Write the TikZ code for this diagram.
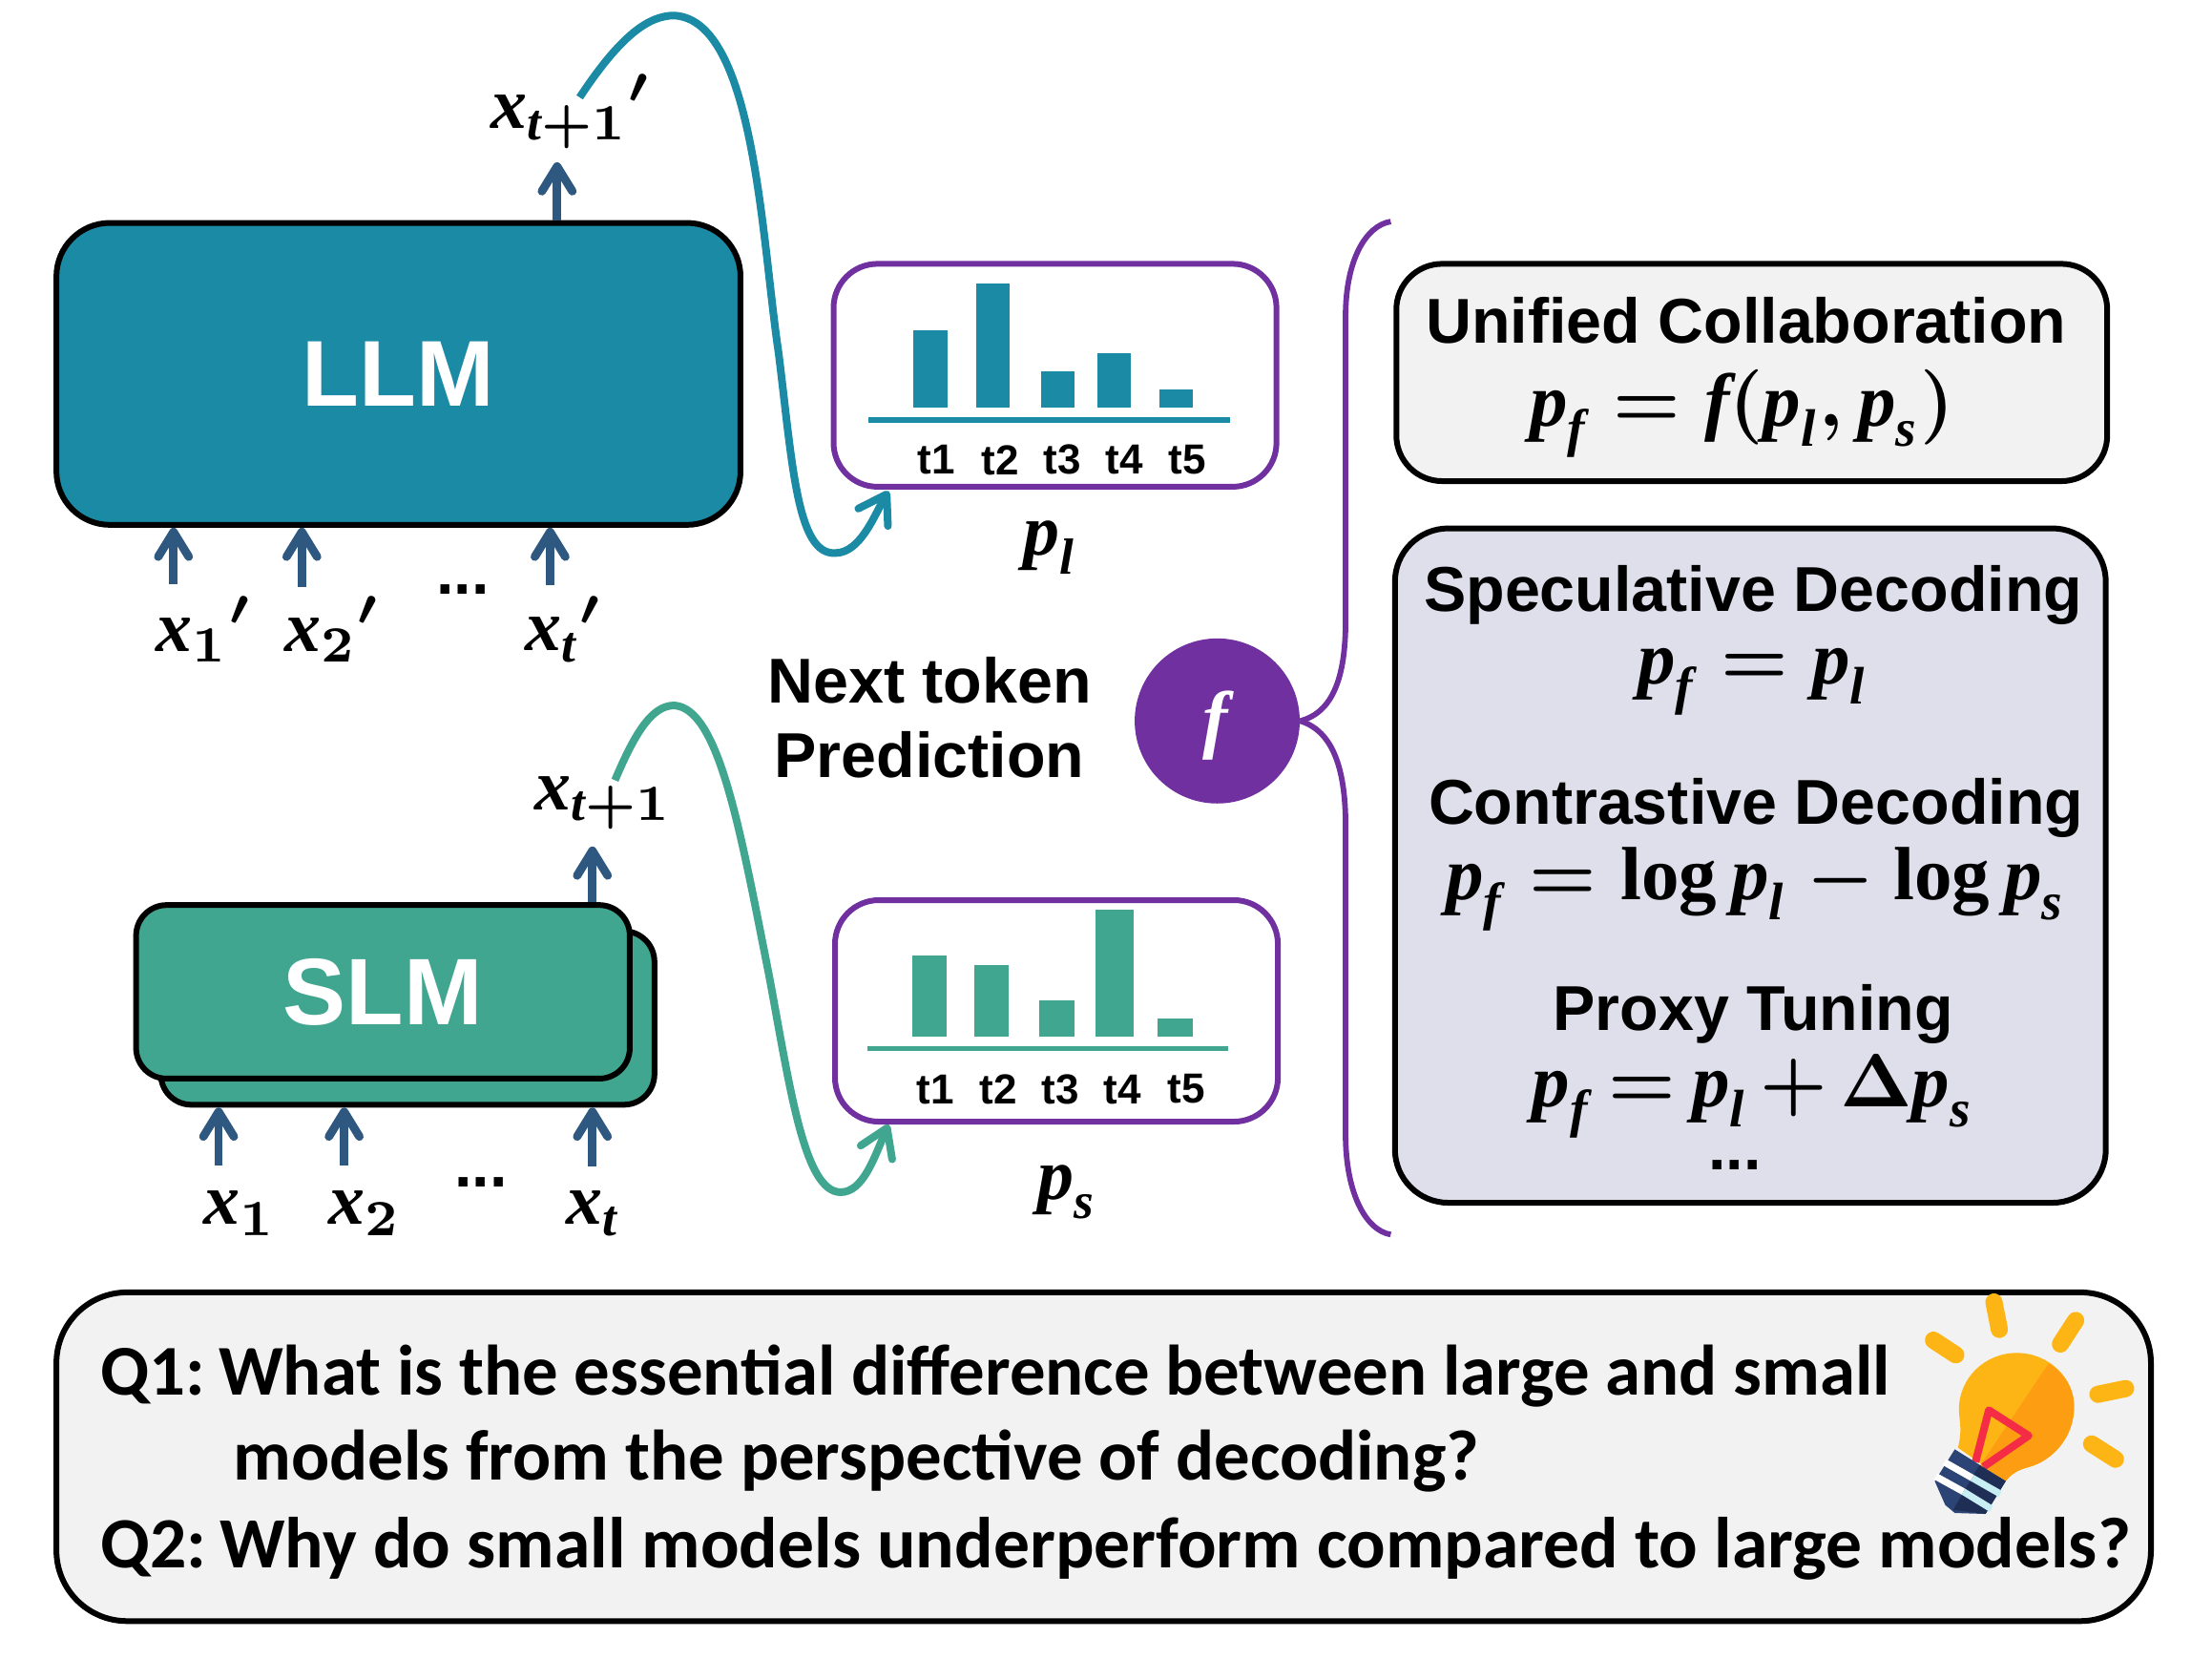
\documentclass[tikz,border=0pt]{standalone}
\usepackage[no-math]{fontspec}
\setmainfont{Liberation Sans}
\newfontfamily\qfont{Carlito}
\newfontfamily\eqfont{Liberation Serif}
\usepackage{amsmath}
\usepackage{xcolor}
\usetikzlibrary{arrows.meta}

\definecolor{llmteal}{HTML}{1A8AA5}
\definecolor{slmgreen}{HTML}{41A690}
\definecolor{arrowblue}{HTML}{2F5880}
\definecolor{fpurple}{HTML}{7030A0}
\definecolor{boxgrey}{HTML}{F2F2F2}
\definecolor{boxlav}{HTML}{DFDFEC}
\definecolor{bulbyellow}{HTML}{FDB515}
\definecolor{bulborange}{HTML}{FD9D12}
\definecolor{bulbred}{HTML}{F42C46}
\definecolor{bulbblue}{HTML}{2C4376}
\definecolor{bulbnavy}{HTML}{1F2E55}
\definecolor{bulbcyan}{HTML}{C6EEF3}

\def\ux{0.739pt}
\newcommand{\mv}[1]{\text{\eqfont\bfseries\itshape #1}}
\newcommand{\mlog}{\text{\eqfont\bfseries log}}

\tikzset{
  bigbox/.style={draw=black,line width=3pt,inner sep=0pt,text=white},
  distbox/.style={draw=fpurple,line width=3pt,rounded corners=23pt,minimum width=314*\ux,inner sep=0pt},
  methodbox/.style={draw=black,line width=3pt,minimum width=504*\ux,inner sep=0pt},
  uparrow/.style={draw=arrowblue,line width=4.4pt,-{Straight Barb[length=13pt,width=16pt,line width=4.4pt,round]}},
  curvearrow/.style={line width=4pt,-{Straight Barb[length=14pt,width=18pt,line width=4pt,round]}},
  brace/.style={draw=fpurple,line width=2.9pt},
  mathlabel/.style={inner sep=0pt,scale=3.8,font=\boldmath},
  eqlabel/.style={inner sep=0pt,scale=3.95,font=\boldmath},
  titlelabel/.style={inner sep=0pt,font=\fontsize{33.2}{38}\selectfont\bfseries},
  ticklabel/.style={inner sep=0pt,font=\fontsize{22}{26}\selectfont\bfseries},
  qline/.style={inner sep=0pt,anchor=base west,font=\fontsize{37.4}{44}\selectfont\qfont\bfseries},
  raydash/.style={draw=bulbyellow,line width=9pt,line cap=round},
  bulbstripe/.style={line width=3.6pt}
}

\begin{document}
\begin{tikzpicture}[x=\ux,y=-\ux]
    \useasboundingbox (0,0) rectangle (1568.3,1190.1);

    \coordinate (OutL) at (395,115);
    \coordinate (OutS) at (420,600);
    \coordinate (InA) at (123,414);
    \coordinate (InB) at (214,416);
    \coordinate (InC) at (390,415);
    \coordinate (InD) at (155,826);
    \coordinate (InE) at (244,826);
    \coordinate (InF) at (420,827);
    \coordinate (CurveL) at (411,69);
    \coordinate (CurveS) at (436,553);
    \coordinate (TipL) at (630,348);
    \coordinate (TipS) at (630,797);

%boxes
    \node[bigbox,fill=llmteal,rounded corners=28pt,minimum width=485*\ux,minimum height=214*\ux,
          font=\fontsize{49}{56}\selectfont\bfseries] (llm) at (282.5,265) {LLM};
    \node[bigbox,fill=slmgreen,rounded corners=16pt,minimum width=350*\ux,minimum height=123*\ux] (slmback) at (289,721.5) {};
    \node[bigbox,fill=slmgreen,rounded corners=16pt,minimum width=350*\ux,minimum height=123*\ux,
          font=\fontsize{49.5}{56}\selectfont\bfseries] (slm) at (271.5,703) {SLM};
    \node[distbox,minimum height=158*\ux] (plbox) at (748,266) {};
    \node[distbox,minimum height=157*\ux] (psbox) at (749,716.5) {};
    \node[circle,fill=fpurple,minimum size=117*\ux,inner sep=0pt] (fcirc) at (863,511) {};
    \node[methodbox,fill=boxgrey,rounded corners=24pt,minimum height=154*\ux] (unibox) at (1242,264) {};
    \node[methodbox,fill=boxlav,rounded corners=28pt,minimum height=478*\ux] (specbox) at (1241,613.5) {};
    \node[draw=black,line width=3pt,fill=boxgrey,rounded corners=37pt,minimum width=1485*\ux,minimum height=233*\ux,inner sep=0pt] (qbox) at (782.5,1032.5) {};

%input and output arrows
    \draw[uparrow] (llm.north -| OutL) -- (OutL);
    \draw[uparrow] (InA) -- (InA |- llm.south);
    \draw[uparrow] (InB) -- (InB |- llm.south);
    \draw[uparrow] (InC) -- (InC |- llm.south);
    \draw[uparrow] (slm.north -| OutS) -- (OutS);
    \draw[uparrow] (InD) -- (InD |- slmback.south);
    \draw[uparrow] (InE) -- (InE |- slmback.south);
    \draw[uparrow] (InF) -- (InF |- slmback.south);

%curves to the distributions
    \draw[curvearrow,draw=llmteal] (CurveL) .. controls (440,25) and (460,11) .. (478,11)
        .. controls (535,14) and (540,170) .. (552,250)
        .. controls (562,330) and (565,393) .. (592,392)
        .. controls (610,392) and (620,365) .. (TipL);
    \draw[curvearrow,draw=slmgreen] (CurveS) .. controls (450,520) and (462,500) .. (478,500)
        .. controls (510,502) and (525,590) .. (545,690)
        .. controls (560,770) and (570,845) .. (596,845)
        .. controls (612,845) and (620,820) .. (TipS);

%bars
    \fill[llmteal] (647.5,234) rectangle (672,289);
    \fill[llmteal] (692,201) rectangle (716,289);
    \fill[llmteal] (738,263) rectangle (762,289);
    \fill[llmteal] (778,250) rectangle (802,289);
    \fill[llmteal] (822,276) rectangle (846,289);
    \draw[llmteal,line width=3pt] (616,298) -- (872,298);
    \fill[slmgreen] (647,677) rectangle (671,735);
    \fill[slmgreen] (691,684) rectangle (715,735);
    \fill[slmgreen] (737,709) rectangle (762,735);
    \fill[slmgreen] (777,645) rectangle (804,735);
    \fill[slmgreen] (821,722) rectangle (846,735);
    \draw[slmgreen,line width=2.6pt] (615,743) -- (871,743);

%brace
    \draw[brace] (fcirc.east) .. controls (945,505) and (954,480) .. (954,440) -- (954,224)
        .. controls (954,185) and (968,160) .. (986,157);
    \draw[brace] (fcirc.east) .. controls (945,518) and (954,545) .. (954,585) -- (954,804)
        .. controls (954,845) and (968,872) .. (986,875);

%labels
    \node[mathlabel] (xnextl) at (405,79) {$\mv{x}_{\mv{t}+1}{}'$};
    \node[mathlabel] (xonep) at (145,446) {$\mv{x}_1{}'$};
    \node[mathlabel] (xtwop) at (236,446) {$\mv{x}_2{}'$};
    \node[mathlabel] (xtp) at (400,446) {$\mv{x}_{\mv{t}}{}'$};
    \node[titlelabel] (dotsl) at (328,418) {...};
    \node[mathlabel] (xnexts) at (428,569) {$\mv{x}_{\mv{t}+1}$};
    \node[mathlabel] (xone) at (170,860) {$\mv{x}_1$};
    \node[mathlabel] (xtwo) at (259,860) {$\mv{x}_2$};
    \node[mathlabel] (xt) at (421,860) {$\mv{x}_{\mv{t}}$};
    \node[titlelabel] (dotss) at (341,838) {...};
    \node[mathlabel] (pl) at (745,388) {$\mv{p}_{\mv{l}}$};
    \node[mathlabel] (ps) at (757,845) {$\mv{p}_{\mv{s}}$};

    \node[ticklabel] (tla) at (664,326) {t1};
    \node[ticklabel] (tlb) at (709,326) {t2};
    \node[ticklabel] (tlc) at (753,326) {t3};
    \node[ticklabel] (tld) at (797,326) {t4};
    \node[ticklabel] (tle) at (842,326) {t5};
    \node[ticklabel] (tsa) at (663,772) {t1};
    \node[ticklabel] (tsb) at (708,772) {t2};
    \node[ticklabel] (tsc) at (752,772) {t3};
    \node[ticklabel] (tsd) at (796,772) {t4};
    \node[ticklabel] (tse) at (841,772) {t5};

    \node[titlelabel] (nexttok) at (659,482) {Next token};
    \node[titlelabel] (predict) at (659,535) {Prediction};
    \node[eqlabel,text=white] (flabel) at (862,514) {$\mv{f}$};

    \node[titlelabel] (unititle) at (1238,227) {Unified Collaboration};
    \node[eqlabel] (unieq) at (1235,293) {$\mv{p}_{\mv{f}} = \mv{f}(\mv{p}_{\mv{l}},\mv{p}_{\mv{s}})$};
    \node[titlelabel] (spectitle) at (1243,422) {Speculative Decoding};
    \node[eqlabel] (speceq) at (1243,483) {$\mv{p}_{\mv{f}} = \mv{p}_{\mv{l}}$};
    \node[titlelabel] (contitle) at (1245,573) {Contrastive Decoding};
    \node[eqlabel] (coneq) at (1245,630) {$\mv{p}_{\mv{f}} = \mlog\, \mv{p}_{\mv{l}} - \mlog\, \mv{p}_{\mv{s}}$};
    \node[titlelabel] (proxtitle) at (1243,719) {Proxy Tuning};
    \node[eqlabel] (proxeq) at (1243,777) {$\medmuskip=2.5mu \thickmuskip=3.5mu \mv{p}_{\mv{f}} = \mv{p}_{\mv{l}} + \Delta \mv{p}_{\mv{s}}$};
    \node[titlelabel] (dotsm) at (1230,826) {...};

    \node[qline] (qa) at (71,989) {Q1:\kern-1.5pt\ What is the essential difference between large and small};
    \node[qline] (qb) at (165,1049) {models from the perspective of decoding?};
    \node[qline,font=\fontsize{37.8}{44}\selectfont\qfont\bfseries] (qc) at (71,1111) {Q2:\kern-1.5pt\ Why do small models underperform compared to large models?};

%light bulb
    \begin{scope}[shift={(1319.4,906.6)},x=0.16667pt,y=-0.16667pt]
        \draw[raydash] (228,192) -- (298,238);
        \draw[raydash] (418,72) -- (435,158);
        \draw[raydash] (675,130) -- (627,204);
        \draw[raydash] (745,362) -- (832,344);
        \draw[raydash] (725,518) -- (800,566);
        \fill[bulbyellow] (305,530) .. controls (320,470) and (308,440) .. (308,410)
            .. controls (308,310) and (390,232) .. (490,232)
            .. controls (590,232) and (670,310) .. (670,400)
            .. controls (670,500) and (600,570) .. (530,590)
            .. controls (490,600) and (470,615) .. (455,635) -- cycle;
        \fill[bulborange] (590,265) .. controls (640,295) and (670,345) .. (670,400)
            .. controls (670,500) and (600,570) .. (530,590)
            .. controls (490,600) and (470,615) .. (455,635) -- (375,585) -- cycle;
        \draw[bulbred,line width=4pt,line join=round] (360,575) -- (402,412) -- (527,492) -- (385,590);
        \fill[bulbblue] (295,535) -- (455,635) -- (390,738) -- (295,735) -- (265,710) -- (232,635) -- cycle;
        \fill[bulbnavy] (372,585) -- (455,635) -- (392,738) -- (290,725) -- cycle;
        \draw[bulbstripe,white] (262,575) -- (350,625);
        \draw[bulbstripe,white] (235,620) -- (322,668);
        \draw[bulbstripe,bulbcyan] (350,625) -- (438,675);
        \draw[bulbstripe,bulbcyan] (322,668) -- (410,722);
    \end{scope}
\end{tikzpicture}
\end{document}
